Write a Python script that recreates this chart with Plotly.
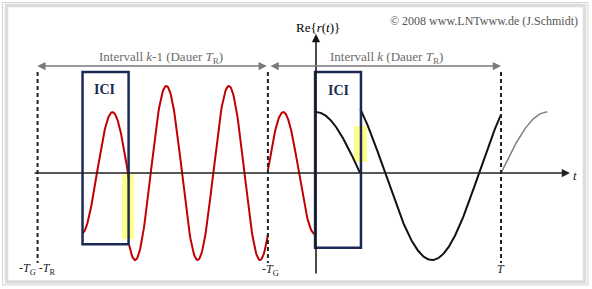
import numpy as np
import plotly.graph_objects as go

# ---------------- data (time in units of T, amplitude normalised) ----------------
T = 1.0
TG = 0.26
TR = T + TG
pos_TG_TR = -1.505          # -TG-TR marker
pos_TG = -TG                # -TG marker
pos_T = T                   # T marker

# signal segments: y = amp * sin(2*pi*freq*(t - t_zero))
seg_names = ["red_ici", "red_k1", "red_guard", "black_ici", "black_k", "grey_next"]
seg_t_start = [-1.26, -1.01, -0.26, 0.0, 0.24, 1.0]
seg_t_end = [-1.012, -0.26, 0.0, 0.238, 1.0, 1.25]
seg_amp = [0.7, 1.0, 0.7, 0.7, 1.0, 0.7]
seg_freq = [2.984, 2.96, 2.94, 1.05, 0.984, 1.0]
seg_t_zero = [-1.184, -0.8935, -0.2622, -0.238, -0.135, 1.0]
seg_color = ["#c00000", "#c00000", "#c00000", "#111111", "#111111", "#7f7f7f"]
seg_width = [2, 2, 2, 2, 2, 1.5]

# ICI boxes [t0, t1, y_low, y_high]
ici_t0 = [-1.262, -0.005]
ici_t1 = [-1.013, 0.243]
ici_ylo = [-0.82, -0.86]
ici_yhi = [1.16, 1.16]

# yellow discontinuity markers
yel_t0 = [-1.049, 0.205]
yel_t1 = [-0.984, 0.276]
yel_ylo = [-0.76, 0.126]
yel_yhi = [-0.01, 0.54]

# ---------------- pixel mapping of the drawing ----------------
W, H = 592, 289
X_ORIGIN_PX, PX_PER_T = 316, 185
Y_ORIGIN_PX, PX_PER_A = 173, 87
x_range = [-X_ORIGIN_PX / PX_PER_T, (W - X_ORIGIN_PX) / PX_PER_T]
y_range = [-(H - Y_ORIGIN_PX) / PX_PER_A, Y_ORIGIN_PX / PX_PER_A]


def tx(px):
    return (px - X_ORIGIN_PX) / PX_PER_T


def ay(py):
    return (Y_ORIGIN_PX - py) / PX_PER_A


fig = go.Figure()

for i in range(len(seg_names)):
    t = np.linspace(seg_t_start[i], seg_t_end[i], 200)
    y = seg_amp[i] * np.sin(2 * np.pi * seg_freq[i] * (t - seg_t_zero[i]))
    fig.add_trace(go.Scatter(x=t, y=y, mode="lines",
                             line=dict(color=seg_color[i], width=seg_width[i]),
                             hoverinfo="skip", showlegend=False))

shapes = []
# frame
shapes.append(dict(type="rect", xref="paper", yref="paper",
                   x0=2.5 / W, x1=588 / W, y0=1 - 2.5 / H, y1=1 - 285 / H,
                   line=dict(color="#d4d4d4", width=1), layer="below"))
shapes.append(dict(type="rect", xref="paper", yref="paper",
                   x0=6.5 / W, x1=584.5 / W, y0=1 - 5.5 / H, y1=1 - 282 / H,
                   line=dict(color="#dcdcdc", width=3.5), layer="below"))
# yellow markers
for i in range(len(yel_t0)):
    shapes.append(dict(type="rect", x0=yel_t0[i], x1=yel_t1[i], y0=yel_ylo[i], y1=yel_yhi[i],
                       fillcolor="#ffff8c", line=dict(width=0), layer="below"))
# dashed markers
for p in [pos_TG_TR, pos_TG, pos_T]:
    shapes.append(dict(type="line", x0=p, x1=p, y0=ay(72), y1=ay(263),
                       line=dict(color="#222222", width=2, dash="4px,3px"), layer="above"))
# ICI boxes
for i in range(len(ici_t0)):
    shapes.append(dict(type="rect", x0=ici_t0[i], x1=ici_t1[i], y0=ici_ylo[i], y1=ici_yhi[i],
                       line=dict(color="#1c2a55", width=2.5), layer="above"))

ann = []
# axes arrows
ann.append(dict(x=tx(570), y=0, ax=tx(33), ay=0, axref="x", ayref="y", xref="x", yref="y",
                text="", showarrow=True, arrowhead=2, arrowsize=1.1, arrowwidth=1.5,
                arrowcolor="#222222"))
ann.append(dict(x=0, y=ay(34), ax=0, ay=ay(275), axref="x", ayref="y", xref="x", yref="y",
                text="", showarrow=True, arrowhead=2, arrowsize=1.1, arrowwidth=1.5,
                arrowcolor="#111111"))
# interval arrows
for a0, a1 in [(pos_TG_TR - 0.01, pos_TG - 0.006), (pos_TG + 0.006, pos_T)]:
    ann.append(dict(x=a1, y=ay(66), ax=a0, ay=ay(66), axref="x", ayref="y", xref="x", yref="y",
                    text="", showarrow=True, arrowhead=2, startarrowhead=2, arrowside="end+start",
                    arrowsize=1.1, startarrowsize=1.1, arrowwidth=1.5, arrowcolor="#7a7a7a"))

serif = "Liberation Serif, Times New Roman, serif"


def label(x, y, text, size=13, color="#000000", xanchor="center", yanchor="middle"):
    ann.append(dict(x=x, y=y, xref="x", yref="y", text=text, showarrow=False,
                    font=dict(family=serif, size=size, color=color),
                    xanchor=xanchor, yanchor=yanchor))


label(tx(161), ay(57), "Intervall <i>k</i>-1 (Dauer <i>T</i><sub>R</sub>)", 13, "#6b6b6b")
label(tx(386), ay(57), "Intervall <i>k</i> (Dauer <i>T</i><sub>R</sub>)", 13, "#6b6b6b")
label(tx(318), ay(27), "Re{<i>r</i>(<i>t</i>)}", 13, "#000000")
label(tx(580), ay(21), "© 2008 www.LNTwww.de (J.Schmidt)", 12, "#555555", xanchor="right")
label(tx(104), ay(89), "<b>ICI</b>", 14, "#1c2a55")
label(tx(338), ay(90), "<b>ICI</b>", 14, "#1c2a55")
label(tx(575), ay(175), "<i>t</i>", 13, "#222222")
label(tx(37), ay(269), "-<i>T<sub>G</sub></i> -<i>T</i><sub>R</sub>", 12, "#222222")
label(tx(270), ay(270), "-<i>T</i><sub>G</sub>", 12, "#222222")
label(tx(501), ay(269), "<i>T</i>", 12, "#222222")

fig.update_layout(
    width=W, height=H, margin=dict(l=0, r=0, t=0, b=0),
    paper_bgcolor="white", plot_bgcolor="white", showlegend=False,
    xaxis=dict(range=x_range, visible=False, fixedrange=True),
    yaxis=dict(range=y_range, visible=False, fixedrange=True),
    shapes=shapes, annotations=ann,
)

fig.write_html("out.html", config={"displayModeBar": False})
